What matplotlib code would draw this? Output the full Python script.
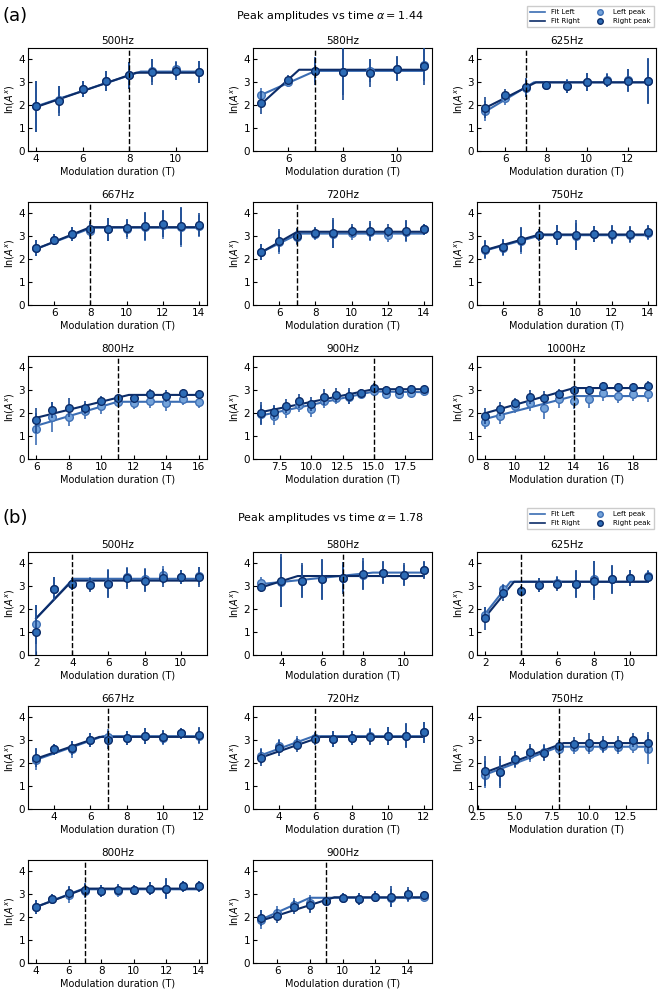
import numpy as np
import matplotlib
matplotlib.use("Agg")
import matplotlib.pyplot as plt
from matplotlib.lines import Line2D

# ---- part (a): alpha = 1.44 ----
freqs_a = ["500Hz", "580Hz", "625Hz", "667Hz", "720Hz", "750Hz", "800Hz", "900Hz", "1000Hz"]
thresh_a = [8, 7, 7, 8, 7, 8, 11, 15, 14]
xticks_a = [
    [4, 6, 8, 10],
    [6, 8, 10],
    [6, 8, 10, 12],
    [6, 8, 10, 12, 14],
    [6, 8, 10, 12, 14],
    [6, 8, 10, 12, 14],
    [6, 8, 10, 12, 14, 16],
    [7.5, 10.0, 12.5, 15.0, 17.5],
    [8, 10, 12, 14, 16, 18],
]
x_a = [
    [4, 5, 6, 7, 8, 9, 10, 11],
    [5, 6, 7, 8, 9, 10, 11],
    [5, 6, 7, 8, 9, 10, 11, 12, 13],
    [5, 6, 7, 8, 9, 10, 11, 12, 13, 14],
    [5, 6, 7, 8, 9, 10, 11, 12, 13, 14],
    [5, 6, 7, 8, 9, 10, 11, 12, 13, 14],
    [6, 7, 8, 9, 10, 11, 12, 13, 14, 15, 16],
    [6, 7, 8, 9, 10, 11, 12, 13, 14, 15, 16, 17, 18, 19],
    [8, 9, 10, 11, 12, 13, 14, 15, 16, 17, 18, 19],
]
left_a = [
    [1.95, 2.25, 2.7, 3.05, 3.3, 3.5, 3.6, 3.45],
    [2.45, 3.0, 3.5, 3.45, 3.5, 3.6, 3.75],
    [1.75, 2.3, 2.75, 2.9, 2.85, 3.0, 3.1, 3.1, 3.05],
    [2.5, 2.85, 3.1, 3.25, 3.3, 3.3, 3.4, 3.5, 3.4, 3.45],
    [2.3, 2.75, 2.95, 3.1, 3.1, 3.15, 3.2, 3.05, 3.2, 3.3],
    [2.4, 2.5, 2.8, 3.05, 3.05, 3.0, 3.1, 3.05, 3.05, 3.15],
    [1.3, 1.85, 1.85, 2.1, 2.3, 2.5, 2.45, 2.55, 2.45, 2.6, 2.5],
    [1.95, 1.9, 2.15, 2.35, 2.2, 2.55, 2.65, 2.7, 2.85, 2.95, 2.85, 2.85, 2.9, 2.95],
    [1.6, 1.9, 2.3, 2.45, 2.25, 2.6, 2.55, 2.6, 2.9, 2.75, 2.85, 2.85],
]
left_err_a = [
    [1.1, 0.6, 0.35, 0.45, 0.6, 0.5, 0.35, 0.5],
    [0.3, 0.2, 0.5, 1.0, 0.5, 0.5, 0.7],
    [0.45, 0.3, 0.4, 0.15, 0.3, 0.4, 0.3, 0.5, 0.95],
    [0.35, 0.25, 0.3, 0.35, 0.5, 0.4, 0.6, 0.6, 0.85, 0.5],
    [0.35, 0.5, 0.35, 0.25, 0.6, 0.3, 0.4, 0.3, 0.45, 0.25],
    [0.4, 0.35, 0.55, 0.25, 0.45, 0.6, 0.35, 0.4, 0.35, 0.3],
    [0.7, 0.65, 0.4, 0.35, 0.35, 0.2, 0.25, 0.3, 0.35, 0.25, 0.25],
    [0.4, 0.4, 0.35, 0.3, 0.35, 0.3, 0.25, 0.3, 0.2, 0.2, 0.25, 0.25, 0.2, 0.2],
    [0.3, 0.35, 0.3, 0.35, 0.5, 0.35, 0.35, 0.35, 0.35, 0.3, 0.3, 0.35],
]
right_a = [
    [1.95, 2.2, 2.7, 3.05, 3.3, 3.45, 3.5, 3.45],
    [2.1, 3.1, 3.5, 3.45, 3.4, 3.6, 3.7],
    [1.9, 2.45, 2.78, 2.9, 2.82, 3.0, 3.08, 3.08, 3.05],
    [2.5, 2.85, 3.1, 3.3, 3.3, 3.35, 3.45, 3.55, 3.45, 3.5],
    [2.3, 2.8, 3.0, 3.15, 3.15, 3.25, 3.25, 3.25, 3.25, 3.3],
    [2.45, 2.55, 2.85, 3.05, 3.05, 3.05, 3.1, 3.1, 3.1, 3.2],
    [1.7, 2.15, 2.25, 2.25, 2.55, 2.65, 2.65, 2.85, 2.75, 2.9, 2.85],
    [2.0, 2.05, 2.3, 2.55, 2.4, 2.7, 2.8, 2.75, 2.9, 3.1, 3.0, 3.0, 3.05, 3.05],
    [1.9, 2.2, 2.45, 2.7, 2.65, 2.85, 3.0, 3.0, 3.2, 3.15, 3.15, 3.2],
]
right_err_a = [
    [1.1, 0.65, 0.35, 0.45, 0.6, 0.55, 0.4, 0.5],
    [0.5, 0.2, 0.6, 1.2, 0.6, 0.55, 0.8],
    [0.45, 0.25, 0.4, 0.15, 0.3, 0.4, 0.3, 0.5, 1.0],
    [0.35, 0.25, 0.3, 0.35, 0.5, 0.4, 0.6, 0.6, 0.85, 0.5],
    [0.35, 0.5, 0.35, 0.25, 0.65, 0.3, 0.4, 0.3, 0.45, 0.25],
    [0.4, 0.35, 0.55, 0.25, 0.45, 0.65, 0.35, 0.4, 0.35, 0.3],
    [0.55, 0.35, 0.4, 0.3, 0.2, 0.2, 0.2, 0.2, 0.25, 0.15, 0.15],
    [0.5, 0.3, 0.3, 0.3, 0.3, 0.35, 0.3, 0.35, 0.15, 0.2, 0.2, 0.2, 0.2, 0.15],
    [0.35, 0.3, 0.2, 0.3, 0.3, 0.2, 0.2, 0.2, 0.15, 0.15, 0.15, 0.2],
]
fitL_x_a = [[4, 8.5, 11], [5, 7, 11], [5, 7.4, 13], [5, 8.1, 14], [5, 7.1, 14],
            [5, 8.1, 14], [6, 11, 16], [6, 15, 19], [8, 14, 19]]
fitL_y_a = [[1.95, 3.47, 3.47], [2.45, 3.5, 3.5], [1.72, 3.0, 3.0], [2.45, 3.38, 3.38],
            [2.3, 3.12, 3.12], [2.38, 3.05, 3.05], [1.45, 2.5, 2.5], [1.9, 2.95, 2.92],
            [1.75, 2.75, 2.75]]
fitR_x_a = [[4, 8.3, 11], [5, 6.4, 11], [5, 7.5, 13], [5, 8, 14], [5, 7, 14],
            [5, 8, 14], [6, 11.7, 16], [6, 15, 19], [8, 14, 19]]
fitR_y_a = [[1.92, 3.42, 3.42], [2.05, 3.55, 3.55], [1.88, 3.0, 3.0], [2.45, 3.4, 3.4],
            [2.3, 3.2, 3.2], [2.4, 3.08, 3.08], [1.8, 2.8, 2.8], [2.05, 3.05, 3.05],
            [2.0, 3.1, 3.1]]

# ---- part (b): alpha = 1.78 ----
freqs_b = ["500Hz", "580Hz", "625Hz", "667Hz", "720Hz", "750Hz", "800Hz", "900Hz"]
thresh_b = [4, 7, 4, 7, 6, 8, 7, 9]
xticks_b = [
    [2, 4, 6, 8, 10],
    [4, 6, 8, 10],
    [2, 4, 6, 8, 10],
    [4, 6, 8, 10, 12],
    [4, 6, 8, 10, 12],
    [2.5, 5.0, 7.5, 10.0, 12.5],
    [4, 6, 8, 10, 12, 14],
    [6, 8, 10, 12, 14],
]
x_b = [
    [2, 3, 4, 5, 6, 7, 8, 9, 10, 11],
    [3, 4, 5, 6, 7, 8, 9, 10, 11],
    [2, 3, 4, 5, 6, 7, 8, 9, 10, 11],
    [3, 4, 5, 6, 7, 8, 9, 10, 11, 12],
    [3, 4, 5, 6, 7, 8, 9, 10, 11, 12],
    [3, 4, 5, 6, 7, 8, 9, 10, 11, 12, 13, 14],
    [4, 5, 6, 7, 8, 9, 10, 11, 12, 13, 14],
    [5, 6, 7, 8, 9, 10, 11, 12, 13, 14, 15],
]
left_b = [
    [1.35, 2.9, 3.1, 3.1, 3.15, 3.4, 3.3, 3.5, 3.4, 3.45],
    [3.15, 3.2, 3.25, 3.3, 3.35, 3.5, 3.6, 3.5, 3.7],
    [1.75, 2.9, 2.8, 3.05, 3.15, 3.1, 3.3, 3.3, 3.35, 3.45],
    [2.15, 2.6, 2.6, 3.0, 3.15, 3.1, 3.2, 3.1, 3.3, 3.2],
    [2.3, 2.75, 2.9, 3.1, 3.05, 3.1, 3.2, 3.2, 3.2, 3.35],
    [1.5, 1.6, 2.15, 2.4, 2.5, 2.6, 2.7, 2.7, 2.75, 2.7, 2.75, 2.6],
    [2.45, 2.8, 2.95, 3.15, 3.15, 3.15, 3.2, 3.25, 3.25, 3.35, 3.35],
    [1.9, 2.2, 2.55, 2.6, 2.7, 2.85, 2.8, 2.9, 2.85, 2.95, 2.9],
]
left_err_b = [
    [0.85, 0.5, 0.25, 0.3, 0.6, 0.45, 0.5, 0.4, 0.3, 0.4],
    [0.25, 1.1, 0.7, 0.85, 0.6, 0.6, 0.45, 0.45, 0.35],
    [0.35, 0.2, 0.2, 0.3, 0.3, 0.55, 0.8, 0.6, 0.35, 0.25],
    [0.45, 0.25, 0.35, 0.3, 0.35, 0.3, 0.35, 0.3, 0.25, 0.35],
    [0.35, 0.3, 0.3, 0.25, 0.35, 0.3, 0.35, 0.4, 0.5, 0.45],
    [0.6, 0.6, 0.35, 0.35, 0.35, 0.25, 0.3, 0.3, 0.3, 0.3, 0.3, 0.65],
    [0.3, 0.2, 0.35, 0.3, 0.25, 0.25, 0.2, 0.3, 0.4, 0.25, 0.25],
    [0.4, 0.3, 0.3, 0.35, 0.2, 0.2, 0.25, 0.25, 0.4, 0.3, 0.2],
]
right_b = [
    [1.0, 2.9, 3.1, 3.05, 3.1, 3.35, 3.25, 3.35, 3.4, 3.4],
    [2.95, 3.25, 3.25, 3.3, 3.35, 3.55, 3.6, 3.5, 3.7],
    [1.6, 2.7, 2.8, 3.05, 3.1, 3.1, 3.25, 3.3, 3.35, 3.4],
    [2.25, 2.6, 2.65, 3.0, 3.0, 3.1, 3.2, 3.15, 3.3, 3.25],
    [2.25, 2.65, 2.8, 3.05, 3.05, 3.1, 3.15, 3.2, 3.2, 3.35],
    [1.65, 1.6, 2.2, 2.5, 2.45, 2.75, 2.85, 2.9, 2.85, 2.85, 3.0, 2.9],
    [2.45, 2.8, 3.05, 3.2, 3.15, 3.2, 3.2, 3.25, 3.25, 3.35, 3.35],
    [1.95, 2.05, 2.45, 2.55, 2.7, 2.85, 2.8, 2.9, 2.9, 3.0, 2.95],
]
right_err_b = [
    [1.2, 0.5, 0.25, 0.3, 0.6, 0.45, 0.5, 0.4, 0.3, 0.45],
    [0.2, 1.15, 0.75, 0.9, 0.7, 0.7, 0.5, 0.5, 0.4],
    [0.5, 0.35, 0.2, 0.3, 0.3, 0.6, 0.85, 0.65, 0.35, 0.25],
    [0.4, 0.25, 0.3, 0.3, 0.4, 0.3, 0.35, 0.3, 0.25, 0.35],
    [0.35, 0.35, 0.3, 0.25, 0.35, 0.3, 0.35, 0.4, 0.55, 0.45],
    [0.65, 0.7, 0.35, 0.35, 0.35, 0.25, 0.3, 0.4, 0.35, 0.35, 0.3, 0.45],
    [0.3, 0.2, 0.3, 0.3, 0.25, 0.25, 0.2, 0.3, 0.45, 0.25, 0.25],
    [0.35, 0.3, 0.3, 0.35, 0.2, 0.2, 0.25, 0.25, 0.45, 0.3, 0.2],
]
fitL_x_b = [[2, 4.05, 11], [3, 8.5, 11], [2, 3.4, 11], [3, 6.7, 12], [3, 5.9, 12],
            [3, 8, 14], [4, 6.8, 14], [5, 8, 15]]
fitL_y_b = [[1.6, 3.33, 3.33], [3.1, 3.6, 3.6], [1.8, 3.2, 3.2], [2.15, 3.18, 3.18],
            [2.35, 3.18, 3.18], [1.5, 2.72, 2.72], [2.45, 3.22, 3.22], [1.9, 2.85, 2.85]]
fitR_x_b = [[2, 4, 11], [3, 4.8, 11], [2, 3.6, 11], [3, 6.5, 12], [3, 6.3, 12],
            [3, 8.3, 14], [4, 7, 14], [5, 9.5, 15]]
fitR_y_b = [[1.6, 3.25, 3.25], [2.95, 3.45, 3.45], [1.65, 3.2, 3.2], [2.2, 3.15, 3.15],
            [2.25, 3.15, 3.15], [1.6, 2.88, 2.88], [2.45, 3.25, 3.25], [1.85, 2.87, 2.87]]

fitL_color = "#3b6db3"
fitR_color = "#0c2c68"
left_face = "#74a3da"
left_edge = "#3f70b5"
right_face = "#2d6cb6"
right_edge = "#0c2c68"

W, H = 664, 991
fig = plt.figure(figsize=(W / 100, H / 100), dpi=100)
plt.rcParams["font.size"] = 7

col_left = [28, 253, 477]
ax_w, ax_h = 179, 103
rows_top_a = [48, 202, 356]
rows_top_b = [552, 706, 860]


def draw_part(freqs, thresh, ticks, xs, lv, le, rv, re, flx, fly, frx, fry, rows_top):
    for i, f in enumerate(freqs):
        r, c = divmod(i, 3)
        x0 = col_left[c]
        y0 = rows_top[r]
        ax = fig.add_axes([x0 / W, 1 - (y0 + ax_h) / H, ax_w / W, ax_h / H])
        ax.plot(flx[i], fly[i], color=fitL_color, lw=1.5, zorder=2)
        ax.plot(frx[i], fry[i], color=fitR_color, lw=1.5, zorder=2)
        ax.errorbar(xs[i], lv[i], yerr=le[i], fmt="o", ms=5.5, mfc=left_face, mec=left_edge,
                    mew=1.0, ecolor=left_edge, elinewidth=1.2, capsize=0, zorder=3)
        ax.errorbar(xs[i], rv[i], yerr=re[i], fmt="o", ms=5.5, mfc=right_face, mec=right_edge,
                    mew=1.0, ecolor="#1b4a92", elinewidth=1.2, capsize=0, zorder=4)
        ax.axvline(thresh[i], color="black", ls="--", lw=1.0, zorder=5)
        ax.set_ylim(0, 4.5)
        ax.set_yticks([0, 1, 2, 3, 4])
        ax.set_xticks(ticks[i])
        ax.tick_params(direction="in", labelsize=7.5, length=3, pad=2)
        ax.set_title(f, fontsize=7.5, pad=3)
        ax.set_xlabel("Modulation duration (T)", fontsize=7, labelpad=2)
        ax.set_ylabel(r"ln($A^x$)", fontsize=7, labelpad=1)


def draw_header(label, title, y_px):
    fig.text(2 / W, 1 - y_px / H, label, fontsize=13, va="center", ha="left")
    fig.text(330 / W, 1 - y_px / H, title, fontsize=8, va="center", ha="center")
    handles = [
        Line2D([], [], color=fitL_color, lw=1.2, label="Fit Left"),
        Line2D([], [], color=fitR_color, lw=1.2, label="Fit Right"),
        Line2D([], [], ls="none", marker="o", ms=4, mfc=left_face, mec=left_edge, label="Left peak"),
        Line2D([], [], ls="none", marker="o", ms=4, mfc=right_face, mec=right_edge, label="Right peak"),
    ]
    fig.legend(handles=handles, ncol=2, fontsize=5, loc="upper right",
               bbox_to_anchor=(657 / W, 1 - (y_px - 13) / H), handlelength=2.2,
               columnspacing=1.8, borderpad=0.4, labelspacing=0.4, framealpha=1,
               fancybox=False, edgecolor="#cccccc")


draw_header("(a)", r"Peak amplitudes vs time $\alpha = 1.44$", 16)
draw_part(freqs_a, thresh_a, xticks_a, x_a, left_a, left_err_a, right_a, right_err_a,
          fitL_x_a, fitL_y_a, fitR_x_a, fitR_y_a, rows_top_a)
draw_header("(b)", r"Peak amplitudes vs time $\alpha = 1.78$", 518)
draw_part(freqs_b, thresh_b, xticks_b, x_b, left_b, left_err_b, right_b, right_err_b,
          fitL_x_b, fitL_y_b, fitR_x_b, fitR_y_b, rows_top_b)

fig.savefig("out.png", dpi=100)
